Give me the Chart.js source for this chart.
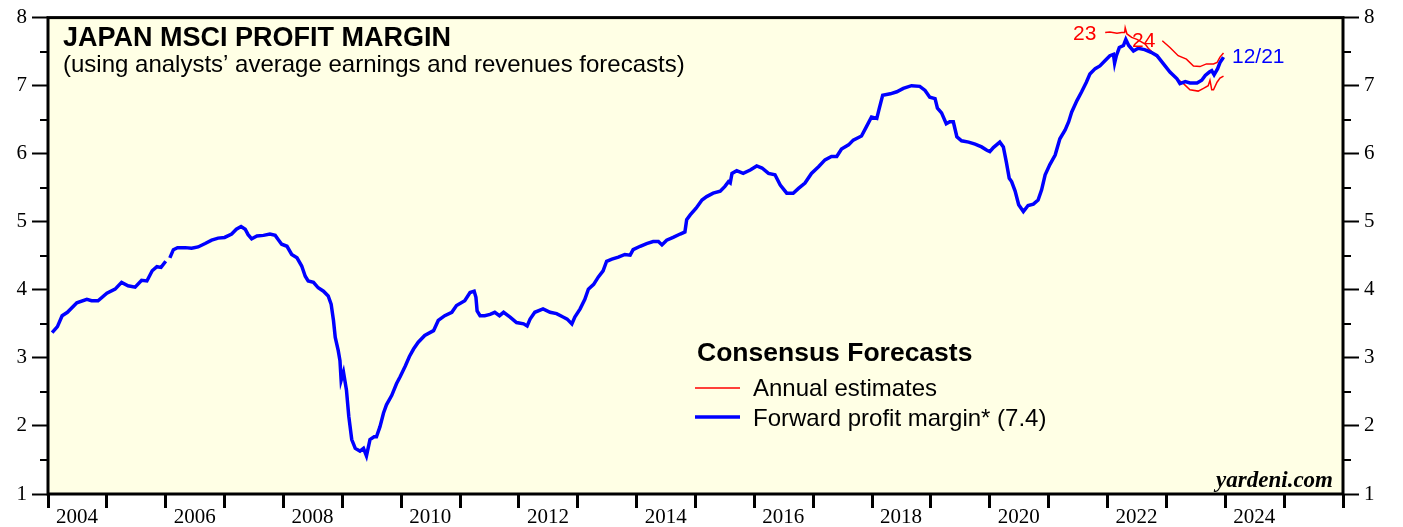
<!DOCTYPE html>
<html>
<head>
<meta charset="utf-8">
<script src="https://cdn.jsdelivr.net/npm/chart.js@4.4.1/dist/chart.umd.min.js"></script>
<style>
html,body{margin:0;padding:0;background:#fff;}
canvas{display:block;}
</style>
</head>
<body>
<canvas id="c" width="1403" height="527"></canvas>
<script>
// ---------- DATA ----------
const xTickLabels = ['2004','2006','2008','2010','2012','2014','2016','2018','2020','2022','2024'];
const yTickValues = [1,2,3,4,5,6,7,8];

// Forward profit margin (blue), decimal year
const fwdDates = [2004.07,2004.16,2004.24,2004.33,2004.49,2004.66,2004.74,2004.85,2005.00,2005.14,2005.25,2005.36,2005.48,2005.59,2005.68,2005.77,2005.85,2005.92,2006.00,2006.03,2006.07,2006.13,2006.20,2006.33,2006.44,2006.55,2006.67,2006.78,2006.89,2007.00,2007.12,2007.20,2007.28,2007.35,2007.40,2007.46,2007.55,2007.66,2007.77,2007.86,2007.91,2007.97,2008.06,2008.14,2008.23,2008.31,2008.37,2008.42,2008.51,2008.59,2008.68,2008.76,2008.81,2008.85,2008.88,2008.93,2008.96,2008.98,2009.02,2009.07,2009.11,2009.16,2009.22,2009.30,2009.36,2009.41,2009.47,2009.54,2009.58,2009.64,2009.70,2009.75,2009.84,2009.92,2009.98,2010.07,2010.14,2010.21,2010.29,2010.40,2010.55,2010.63,2010.74,2010.86,2010.94,2011.08,2011.17,2011.24,2011.27,2011.29,2011.34,2011.42,2011.51,2011.59,2011.67,2011.74,2011.85,2011.96,2012.08,2012.14,2012.19,2012.27,2012.41,2012.53,2012.64,2012.75,2012.82,2012.90,2012.95,2013.04,2013.12,2013.18,2013.27,2013.35,2013.43,2013.49,2013.58,2013.69,2013.80,2013.89,2013.94,2014.06,2014.17,2014.28,2014.37,2014.43,2014.51,2014.62,2014.74,2014.82,2014.85,2014.91,2015.01,2015.11,2015.19,2015.30,2015.42,2015.50,2015.56,2015.59,2015.62,2015.70,2015.81,2015.93,2016.04,2016.13,2016.24,2016.35,2016.44,2016.55,2016.66,2016.75,2016.86,2016.97,2017.09,2017.20,2017.31,2017.40,2017.48,2017.60,2017.68,2017.82,2017.90,2017.99,2018.08,2018.12,2018.18,2018.31,2018.42,2018.53,2018.67,2018.81,2018.90,2018.98,2019.07,2019.11,2019.18,2019.26,2019.32,2019.38,2019.44,2019.52,2019.64,2019.75,2019.86,2019.95,2020.00,2020.06,2020.17,2020.23,2020.28,2020.33,2020.37,2020.43,2020.49,2020.57,2020.65,2020.74,2020.82,2020.88,2020.94,2021.02,2021.11,2021.19,2021.28,2021.34,2021.39,2021.48,2021.56,2021.64,2021.70,2021.79,2021.87,2021.96,2022.04,2022.10,2022.12,2022.15,2022.20,2022.27,2022.31,2022.36,2022.44,2022.52,2022.63,2022.74,2022.84,2022.95,2023.06,2023.18,2023.23,2023.32,2023.40,2023.52,2023.60,2023.66,2023.73,2023.77,2023.81,2023.87,2023.91,2023.95,2023.97];
const fwdValues = [3.37,3.46,3.62,3.67,3.81,3.86,3.84,3.84,3.95,4.01,4.11,4.06,4.04,4.14,4.13,4.28,4.34,4.33,4.42,null,4.47,4.59,4.62,4.62,4.61,4.63,4.68,4.73,4.76,4.77,4.82,4.89,4.93,4.89,4.81,4.75,4.79,4.80,4.82,4.80,4.74,4.67,4.64,4.52,4.47,4.35,4.20,4.13,4.11,4.03,3.98,3.91,3.79,3.55,3.30,3.11,2.96,2.67,2.79,2.53,2.14,1.80,1.67,1.63,1.67,1.56,1.80,1.84,1.84,1.99,2.19,2.31,2.45,2.62,2.72,2.88,3.02,3.13,3.23,3.33,3.40,3.55,3.62,3.67,3.77,3.84,3.96,3.98,3.89,3.69,3.62,3.62,3.64,3.67,3.62,3.67,3.60,3.52,3.50,3.47,3.57,3.67,3.72,3.67,3.65,3.60,3.57,3.50,3.60,3.72,3.86,4.01,4.08,4.19,4.28,4.42,4.45,4.48,4.52,4.51,4.59,4.64,4.68,4.71,4.71,4.66,4.73,4.77,4.82,4.85,5.03,5.10,5.20,5.32,5.37,5.42,5.45,5.52,5.59,5.57,5.71,5.75,5.71,5.76,5.82,5.79,5.71,5.69,5.54,5.42,5.42,5.49,5.57,5.71,5.81,5.91,5.96,5.96,6.07,6.13,6.20,6.26,6.39,6.54,6.52,6.66,6.86,6.88,6.91,6.96,7.00,6.99,6.93,6.83,6.81,6.67,6.60,6.44,6.47,6.47,6.25,6.19,6.17,6.14,6.10,6.05,6.03,6.09,6.17,6.10,5.88,5.64,5.59,5.45,5.25,5.15,5.24,5.26,5.32,5.47,5.69,5.84,5.98,6.22,6.35,6.47,6.61,6.78,6.91,7.05,7.17,7.25,7.29,7.37,7.44,7.46,7.33,7.44,7.56,7.59,7.68,7.59,7.51,7.55,7.53,7.49,7.44,7.32,7.20,7.10,7.03,7.06,7.04,7.04,7.08,7.15,7.20,7.22,7.16,7.25,7.34,7.39,7.42];

// Annual estimate 2023 (red)
const est23Dates = [2021.96,2022.04,2022.16,2022.24,2022.29,2022.30,2022.33,2022.41,2022.50,2022.64,2022.70,2022.80,2022.95,2023.06,2023.18,2023.29,2023.40,2023.54,2023.63,2023.71,2023.74,2023.77,2023.80,2023.86,2023.91,2023.97];
const est23Values = [7.78,7.79,7.77,7.78,7.78,7.85,7.76,7.71,7.68,7.61,7.54,7.46,7.33,7.20,7.10,7.03,6.94,6.92,6.96,7.00,7.08,6.94,6.94,7.05,7.11,7.14];

// Annual estimate 2024 (red)
const est24Dates = [2022.93,2023.06,2023.20,2023.34,2023.46,2023.57,2023.68,2023.80,2023.86,2023.91,2023.97];
const est24Values = [7.66,7.56,7.44,7.39,7.29,7.28,7.32,7.32,7.34,7.42,7.48];

const lastDateLabel = '12/21';
const lastValueLabel = '7.4';

// ---------- BUILD ----------
const toXY = (xs, ys) => xs.map((x, i) => ({x: x, y: ys[i]}));

const BG = 'rgb(255,255,229)';
const serif = '"Liberation Serif","DejaVu Serif",serif';
const sans = '"Liberation Sans",Arial,sans-serif';

const overlay = {
  id: 'overlay',
  beforeDraw(chart) {
    const {ctx, chartArea: a} = chart;
    ctx.save();
    ctx.fillStyle = BG;
    ctx.fillRect(a.left, a.top, a.right - a.left, a.bottom - a.top);
    ctx.restore();
  },
  afterDraw(chart) {
    const {ctx, chartArea: a} = chart;
    const ys = chart.scales.y;
    ctx.save();
    // minor ticks at half units
    ctx.strokeStyle = '#000';
    ctx.lineWidth = 2;
    for (let i = 0; i < yTickValues.length - 1; i++) {
      const py = Math.round(ys.getPixelForValue(yTickValues[i] + 0.5));
      ctx.beginPath();
      ctx.moveTo(a.left - 8, py); ctx.lineTo(a.left, py);
      ctx.moveTo(a.right, py); ctx.lineTo(a.right + 8, py);
      ctx.stroke();
    }
    // frame
    ctx.lineWidth = 3;
    ctx.strokeRect(a.left, a.top, a.right - a.left, a.bottom - a.top);

    // titles
    ctx.fillStyle = '#000';
    ctx.textBaseline = 'alphabetic';
    ctx.textAlign = 'left';
    ctx.font = 'bold 27px ' + sans;
    ctx.fillText('JAPAN MSCI PROFIT MARGIN', 63, 46);
    ctx.font = '24px ' + sans;
    ctx.fillText('(using analysts\u2019 average earnings and revenues forecasts)', 63, 72);

    // legend
    ctx.font = 'bold 26.5px ' + sans;
    ctx.fillText('Consensus Forecasts', 697, 361);
    ctx.font = '24px ' + sans;
    ctx.fillText('Annual estimates', 753, 396);
    ctx.fillText('Forward profit margin* (' + lastValueLabel + ')', 753, 426);
    ctx.lineWidth = 1.5;
    ctx.strokeStyle = '#ff0000';
    ctx.beginPath(); ctx.moveTo(695, 388); ctx.lineTo(740, 388); ctx.stroke();
    ctx.lineWidth = 3.5;
    ctx.strokeStyle = '#0000ff';
    ctx.beginPath(); ctx.moveTo(695, 417); ctx.lineTo(740, 417); ctx.stroke();

    // series labels
    ctx.font = '21px ' + sans;
    ctx.fillStyle = '#ff0000';
    ctx.fillText('23', 1073, 40);
    ctx.fillText('24', 1132, 47);
    ctx.fillStyle = '#0000ff';
    ctx.fillText(lastDateLabel, 1232, 63);

    // source
    ctx.fillStyle = '#000';
    ctx.textAlign = 'right';
    ctx.font = 'italic bold 23px ' + serif;
    ctx.fillText('yardeni.com', 1333, 487);
    ctx.restore();
  }
};

const yAxisCommon = {
  type: 'linear', min: 1, max: 8,
  ticks: {stepSize: 1, color: '#000', font: {family: serif, size: 21}, padding: 5},
  grid: {drawOnChartArea: false, drawTicks: true, tickLength: 16, tickWidth: 2, tickColor: '#000'},
  border: {display: false}
};

new Chart(document.getElementById('c'), {
  type: 'line',
  data: {
    datasets: [
      {label: 'Forward profit margin*', data: toXY(fwdDates, fwdValues), borderColor: '#0000ff', borderWidth: 3.5, pointRadius: 0, tension: 0, spanGaps: false, order: 0},
      {label: 'Annual estimates 2023', data: toXY(est23Dates, est23Values), borderColor: '#ff0000', borderWidth: 1.5, pointRadius: 0, tension: 0, order: 1},
      {label: 'Annual estimates 2024', data: toXY(est24Dates, est24Values), borderColor: '#ff0000', borderWidth: 1.5, pointRadius: 0, tension: 0, order: 1}
    ]
  },
  options: {
    responsive: false,
    animation: false,
    devicePixelRatio: 1,
    layout: {padding: {top: 15, left: 0, right: 0, bottom: 0}},
    plugins: {legend: {display: false}, tooltip: {enabled: false}, title: {display: false}},
    scales: {
      x: {
        type: 'linear', min: 2004, max: 2026,
        ticks: {
          stepSize: 1, autoSkip: false, maxRotation: 0, minRotation: 0,
          color: '#000', font: {family: serif, size: 21}, padding: -3, labelOffset: 29,
          callback: (v) => xTickLabels.includes(String(v)) ? String(v) : ''
        },
        grid: {drawOnChartArea: false, drawTicks: true, tickLength: 14, tickWidth: 3, tickColor: '#000'},
        border: {display: false},
        afterFit: (s) => { s.height = 33; }
      },
      y: Object.assign({}, yAxisCommon, {position: 'left', afterFit: (s) => { s.width = 48; }}),
      y2: Object.assign({}, yAxisCommon, {position: 'right', afterFit: (s) => { s.width = 60; }})
    }
  },
  plugins: [overlay]
});
</script>
</body>
</html>
